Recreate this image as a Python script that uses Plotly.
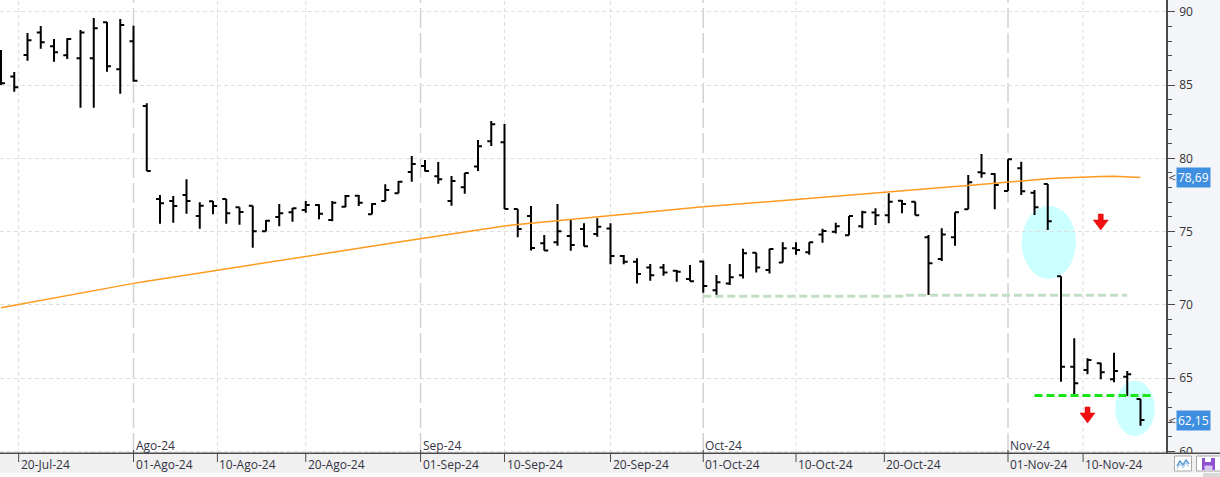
import plotly.graph_objects as go
import pandas as pd

# ---------------- data ----------------
dates = [d.strftime("%Y-%m-%d") for d in pd.bdate_range("2024-07-18", "2024-11-15")]

opens = [86.40, 85.59, 87.05, 88.59, 87.64, 87.03, 86.82, 86.82, 89.28, 86.07,
         87.98, 83.57, 77.22, 77.09, 77.50, 76.06, 77.07, 77.22, 76.66, 76.77,
         75.02, 76.00, 76.32, 76.47, 76.81, 75.79, 76.70, 77.45, 76.18, 77.09,
         77.61, 79.07, 79.47, 78.77, 77.09, 78.02, 79.45, 81.16, 81.09, 76.54,
         76.06, 74.20, 74.27, 74.70, 75.18, 74.83, 75.22, 73.34, 72.95, 72.56,
         72.56, 72.33, 71.77, 72.97, 71.01, 71.47, 72.02, 73.56, 72.38, 72.90,
         73.86, 73.59, 74.81, 74.99, 74.75, 75.36, 76.30, 76.11, 77.11, 77.04,
         74.61, 73.13, 74.61, 76.52, 79.05, 78.93, 77.77, 79.32, 77.65, 78.25,
         71.95, 65.78, 65.56, 66.02, 64.93, 65.10, 63.58]
highs = [87.39, 85.89, 88.55, 89.02, 88.14, 88.19, 88.75, 89.57, 89.30, 89.50,
         89.05, 83.75, 77.50, 77.43, 78.57, 77.00, 77.09, 77.22, 76.66, 76.77,
         75.79, 76.88, 76.61, 77.09, 76.86, 77.09, 77.50, 77.50, 76.93, 78.23,
         78.45, 80.16, 79.88, 79.75, 78.79, 79.00, 81.25, 82.54, 82.34, 76.54,
         76.75, 74.77, 76.88, 75.86, 75.57, 75.91, 75.57, 73.40, 73.18, 72.79,
         72.79, 72.38, 72.72, 73.02, 72.04, 72.79, 73.83, 73.56, 73.83, 74.27,
         74.27, 74.27, 75.20, 75.61, 76.06, 76.43, 76.59, 77.61, 77.16, 77.04,
         74.77, 75.23, 76.32, 78.86, 80.29, 78.98, 79.93, 79.77, 77.84, 78.25,
         71.95, 67.72, 66.36, 66.06, 66.74, 65.49, 63.58]
lows = [85.00, 84.54, 86.66, 87.48, 86.59, 86.77, 83.45, 83.45, 85.91, 84.41,
        85.23, 79.13, 75.54, 75.61, 76.22, 75.20, 76.18, 75.54, 75.47, 73.90,
        75.02, 75.36, 75.68, 76.29, 75.84, 75.70, 76.66, 76.75, 76.18, 77.09,
        77.61, 78.40, 79.11, 78.27, 76.77, 77.59, 79.13, 80.84, 76.54, 74.61,
        73.72, 73.72, 74.04, 73.70, 74.00, 74.65, 72.77, 72.77, 71.47, 71.65,
        71.99, 71.58, 71.61, 70.83, 70.67, 71.36, 71.81, 72.22, 72.15, 72.90,
        73.42, 73.42, 74.24, 74.88, 74.75, 75.23, 75.45, 75.57, 76.25, 76.11,
        70.67, 72.99, 74.04, 76.52, 78.68, 76.52, 77.77, 77.50, 76.13, 75.11,
        64.76, 63.85, 65.27, 64.93, 64.72, 63.78, 61.76]
closes = [85.12, 84.84, 88.05, 87.91, 87.23, 88.14, 88.59, 88.87, 86.28, 89.09,
          85.29, 79.13, 76.93, 76.75, 77.09, 76.77, 76.75, 76.25, 76.34, 75.02,
          75.74, 76.25, 76.59, 76.81, 76.22, 76.97, 77.43, 76.97, 76.88, 77.84,
          78.40, 79.61, 79.13, 78.57, 78.45, 79.00, 80.82, 82.32, 76.54, 75.18,
          73.88, 73.72, 75.02, 74.09, 74.00, 75.33, 73.34, 72.95, 72.11, 72.02,
          72.22, 72.27, 71.61, 71.29, 71.54, 71.88, 73.52, 72.56, 73.81, 73.86,
          73.74, 74.27, 75.04, 75.36, 76.06, 76.32, 76.11, 77.04, 76.88, 76.11,
          72.84, 74.81, 76.32, 78.36, 78.98, 78.18, 79.93, 77.75, 76.66, 75.70,
          65.78, 64.65, 66.24, 65.40, 65.49, 65.27, 62.15]
moving_avg = [69.80, 69.97, 70.14, 70.31, 70.48, 70.65, 70.82, 70.99, 71.15, 71.31,
              71.47, 71.61, 71.75, 71.89, 72.03, 72.17, 72.31, 72.45, 72.59, 72.73,
              72.87, 73.00, 73.13, 73.26, 73.40, 73.55, 73.70, 73.85, 74.00, 74.15,
              74.29, 74.43, 74.57, 74.71, 74.85, 74.99, 75.13, 75.26, 75.39, 75.48,
              75.57, 75.66, 75.75, 75.84, 75.93, 76.02, 76.10, 76.19, 76.27, 76.36,
              76.44, 76.53, 76.61, 76.69, 76.76, 76.83, 76.90, 76.97, 77.04, 77.11,
              77.18, 77.26, 77.33, 77.40, 77.47, 77.54, 77.62, 77.69, 77.77, 77.85,
              77.92, 78.00, 78.07, 78.15, 78.23, 78.31, 78.38, 78.45, 78.52, 78.60,
              78.65, 78.70, 78.73, 78.76, 78.77, 78.75, 78.69]

date_ticks = ["2024-07-20", "2024-08-01", "2024-08-10", "2024-08-20", "2024-09-01",
              "2024-09-10", "2024-09-20", "2024-10-01", "2024-10-10", "2024-10-20",
              "2024-11-01", "2024-11-10"]
date_tick_labels = ["20-Jul-24", "01-Ago-24", "10-Ago-24", "20-Ago-24", "01-Sep-24",
                    "10-Sep-24", "20-Sep-24", "01-Oct-24", "10-Oct-24", "20-Oct-24",
                    "01-Nov-24", "10-Nov-24"]
month_ticks = ["2024-08-01", "2024-09-01", "2024-10-01", "2024-11-01"]
month_labels = ["Ago-24", "Sep-24", "Oct-24", "Nov-24"]

ma_tag = "78,69"
close_tag = "62,15"

# drawings on the chart (index-units x, price y)
support_lines = [(53.0, 68.3, 70.60, "#c3dfc3"), (68.3, 85.0, 70.66, "#c3dfc3"),
                 (78.0, 86.85, 63.83, "#19e619")]
ovals = [(77.03, 81.13, 71.77, 76.77), (84.08, 87.09, 61.06, 64.83)]
down_arrows = [("2024-11-12", 76.2), ("2024-11-11", 63.04)]

# ---------------- helpers ----------------
W, H = 1220, 477
ML, MR, MT, MB = 0, 54, 0, 24
PW, PH = W - ML - MR, H - MT - MB
idx = list(range(len(dates)))
ts = [pd.Timestamp(d) for d in dates]


def pos(d):
    d = pd.Timestamp(d)
    for i in range(len(ts) - 1):
        if ts[i] <= d <= ts[i + 1]:
            return i + (d - ts[i]).days / (ts[i + 1] - ts[i]).days
    return float(len(ts) - 1)


def xp(px):  # pixel -> paper x
    return (px - ML) / PW


def yp(py):  # pixel -> paper y
    return (MT + PH - py) / PH


step = 13.25
x_range = [-1 / step, -1 / step + PW / step]
y_range = [59.90, 90.80]

fig = go.Figure()

fig.add_trace(go.Scatter(x=idx, y=moving_avg, mode="lines",
                         line=dict(color="#ff9a1f", width=1.5), hoverinfo="skip"))
fig.add_trace(go.Ohlc(x=idx, open=opens, high=highs, low=lows, close=closes,
                      increasing=dict(line=dict(color="black", width=2)),
                      decreasing=dict(line=dict(color="black", width=2)),
                      tickwidth=0.3, hoverinfo="skip"))

shapes = []
# vertical gridlines
for d in date_ticks:
    if d in month_ticks:
        continue
    shapes.append(dict(type="line", xref="x", yref="paper", x0=pos(d), x1=pos(d), y0=0, y1=1,
                       line=dict(color="#dedede", width=1, dash="4px,3px"), layer="below"))
for d in month_ticks:
    shapes.append(dict(type="line", xref="x", yref="paper", x0=pos(d), x1=pos(d), y0=0, y1=1,
                       line=dict(color="#d2d2d2", width=1.5, dash="20px,5px"), layer="below"))
# ovals
for x0, x1, y0, y1 in ovals:
    shapes.append(dict(type="circle", xref="x", yref="y", x0=x0, x1=x1, y0=y0, y1=y1,
                       fillcolor="#ccffff", line=dict(width=0), layer="below"))
# support lines
for x0, x1, yv, col in support_lines:
    shapes.append(dict(type="line", xref="x", yref="y", x0=x0, x1=x1, y0=yv, y1=yv,
                       line=dict(color=col, width=3, dash="8px,4px"), layer="above"))
# red arrows
for d, yv in down_arrows:
    shapes.append(dict(type="path", xref="x", yref="y", xsizemode="pixel", ysizemode="pixel",
                       xanchor=dates.index(d), yanchor=yv,
                       path="M-2.5,0 L2.5,0 L2.5,-6 L7.5,-6 L0,-16 L-7.5,-6 L-2.5,-6 Z",
                       fillcolor="#f01010", line=dict(color="#e00000", width=0.5), layer="above"))
# bottom strip
shapes.append(dict(type="rect", xref="paper", yref="paper", x0=xp(0), x1=xp(W), y0=yp(453), y1=yp(472.5),
                   fillcolor="#f0f0f0", line=dict(width=0), layer="above"))
shapes.append(dict(type="rect", xref="paper", yref="paper", x0=xp(0), x1=xp(W), y0=yp(472.5), y1=yp(477),
                   fillcolor="#fafafa", line=dict(width=0), layer="above"))
shapes.append(dict(type="rect", xref="paper", yref="paper", x0=xp(1203), x1=xp(W), y0=yp(473), y1=yp(477),
                   fillcolor="#d9d9d9", line=dict(width=0), layer="above"))
shapes.append(dict(type="line", xref="paper", yref="paper", x0=xp(0), x1=xp(W), y0=yp(453.3), y1=yp(453.3),
                   line=dict(color="#4a4a4a", width=1.5), layer="above"))
# x ticks
for d in date_ticks:
    top = 450 if d in month_ticks else 453.3
    shapes.append(dict(type="line", xref="x", yref="paper", x0=pos(d), x1=pos(d), y0=yp(top), y1=yp(462),
                       line=dict(color="#4a4a4a", width=1), layer="above"))
# icons
shapes.append(dict(type="rect", xref="paper", yref="paper", x0=xp(1174.5), x1=xp(1191.5), y0=yp(471), y1=yp(456),
                   fillcolor="white", line=dict(color="#a9a9a9", width=1), layer="above"))
shapes.append(dict(type="path", xref="paper", yref="paper",
                   path=f"M{xp(1177)},{yp(466)} L{xp(1180)},{yp(461)} L{xp(1183)},{yp(465)} L{xp(1186)},{yp(460)} L{xp(1189)},{yp(464)}",
                   line=dict(color="#5b9bd5", width=1.5), layer="above"))
shapes.append(dict(type="path", xref="paper", yref="paper",
                   path=f"M{xp(1177)},{yp(469)} L{xp(1180)},{yp(464)} L{xp(1183)},{yp(468)} L{xp(1186)},{yp(463)} L{xp(1189)},{yp(467)}",
                   line=dict(color="#9cc3e8", width=1), layer="above"))
shapes.append(dict(type="rect", xref="paper", yref="paper", x0=xp(1196.5), x1=xp(1221), y0=yp(471), y1=yp(456),
                   fillcolor="white", line=dict(color="#a9a9a9", width=1), layer="above"))
shapes.append(dict(type="rect", xref="paper", yref="paper", x0=xp(1202), x1=xp(1215), y0=yp(470), y1=yp(458),
                   fillcolor="#8e4fd0", line=dict(width=0), layer="above"))
shapes.append(dict(type="rect", xref="paper", yref="paper", x0=xp(1205), x1=xp(1211), y0=yp(462), y1=yp(458),
                   fillcolor="white", line=dict(width=0), layer="above"))
shapes.append(dict(type="rect", xref="paper", yref="paper", x0=xp(1204.5), x1=xp(1212.5), y0=yp(470), y1=yp(465.5),
                   fillcolor="#d9c6f2", line=dict(width=0), layer="above"))

annotations = []
font_main = "Open Sans"
for d, t in zip(date_ticks, date_tick_labels):
    annotations.append(dict(x=pos(d), y=yp(465), xref="x", yref="paper", text=t, showarrow=False,
                            xanchor="left", yanchor="middle", xshift=0,
                            font=dict(family=font_main, size=12, color="#333344")))
for d, t in zip(month_ticks, month_labels):
    annotations.append(dict(x=pos(d), y=yp(445), xref="x", yref="paper", text=t, showarrow=False,
                            xanchor="left", yanchor="middle", xshift=0,
                            font=dict(family=font_main, size=12, color="#333344")))
for val, txt in ((moving_avg[-1], ma_tag), (closes[-1], close_tag)):
    annotations.append(dict(x=1, y=val, xref="paper", yref="y", text=txt, showarrow=False,
                            xanchor="left", yanchor="middle", xshift=10, bgcolor="#3f8fe0",
                            borderpad=1, font=dict(family=font_main, size=12, color="white")))
    annotations.append(dict(x=1, y=val, xref="paper", yref="y", text="<", showarrow=False,
                            xanchor="left", yanchor="middle", xshift=0,
                            font=dict(family="DejaVu Sans", size=10, color="#555555")))

fig.update_layout(
    width=W, height=H,
    margin=dict(l=ML, r=MR, t=MT, b=MB),
    paper_bgcolor="#f4f5f8", plot_bgcolor="white",
    showlegend=False, hovermode=False,
    shapes=shapes, annotations=annotations,
    xaxis=dict(range=x_range, showgrid=False, zeroline=False, showticklabels=False,
               ticks="", showline=False, rangeslider=dict(visible=False), fixedrange=True),
    yaxis=dict(range=y_range, side="right", tickvals=[60, 65, 70, 75, 80, 85, 90],
               showgrid=True, gridcolor="#dedede", griddash="4px,3px", gridwidth=1,
               zeroline=False, showline=True, linecolor="#4a4a4a", linewidth=1.5,
               ticks="outside", ticklen=7, tickcolor="#4a4a4a", tickwidth=1,
               ticklabelstandoff=2,
               tickfont=dict(family=font_main, size=12, color="#333333"),
               minor=dict(dtick=1, ticks="outside", ticklen=4, tickcolor="#4a4a4a", showgrid=False),
               fixedrange=True),
)

fig.write_html("out.html")
